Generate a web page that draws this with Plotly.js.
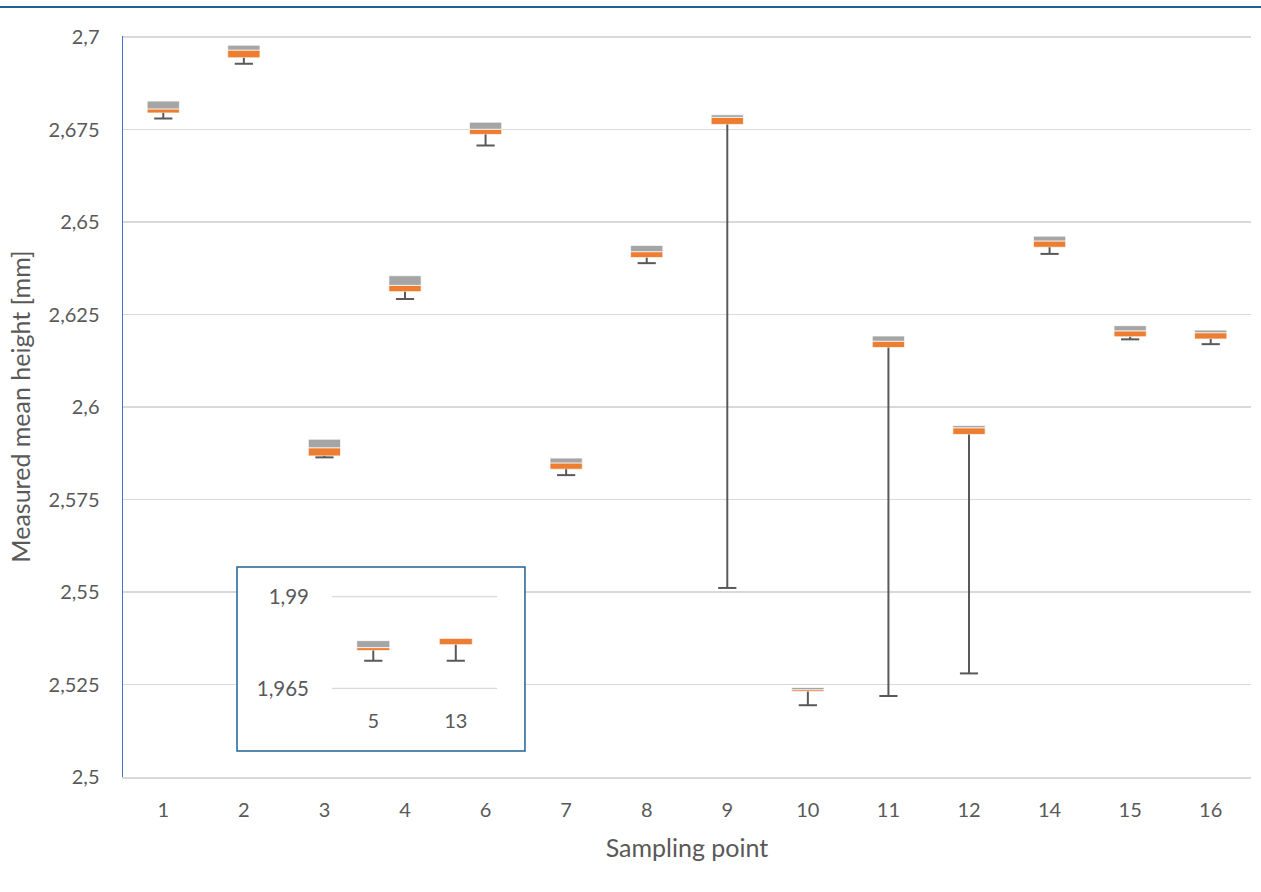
<!DOCTYPE html>
<html>
<head>
<meta charset="utf-8">
<script src="https://cdn.plot.ly/plotly-3.0.1.min.js"></script>
<style>html,body{margin:0;padding:0;background:#fff;}#chart{width:1261px;height:892px;}</style>
</head>
<body>
<div id="chart"></div>
<script>
// Main chart: sampling points
const categories = ['1','2','3','4','6','7','8','9','10','11','12','14','15','16'];
const minVals    = [2.6780, 2.6928, 2.5864, 2.6292, 2.6707, 2.5816, 2.6389, 2.5511, 2.5194, 2.5219, 2.5280, 2.6414, 2.6183, 2.6170];
const q1Vals     = [2.6795, 2.6944, 2.5868, 2.6312, 2.6737, 2.5832, 2.6404, 2.6764, 2.5231, 2.6161, 2.5926, 2.6432, 2.6190, 2.6184];
const medianVals = [2.6806, 2.6965, 2.5890, 2.6329, 2.6751, 2.5849, 2.6420, 2.6783, 2.5236, 2.6178, 2.5944, 2.6449, 2.6206, 2.6201];
const q3Vals     = [2.6827, 2.6978, 2.5913, 2.6355, 2.6770, 2.5862, 2.6437, 2.6790, 2.5242, 2.6192, 2.5950, 2.6462, 2.6220, 2.6208];

// Inset: points 5 and 13
const insetCategories = ['5','13'];
const insetMin    = [1.9725, 1.9725];
const insetQ1     = [1.9753, 1.9769];
const insetMedian = [1.9761, 1.9787];
const insetQ3     = [1.9780, 1.9787];

// Tick labels
const yTickVals = [2.5, 2.525, 2.55, 2.575, 2.6, 2.625, 2.65, 2.675, 2.7];
const yTickText = ['2,5', '2,525', '2,55', '2,575', '2,6', '2,625', '2,65', '2,675', '2,7'];
const insetTickVals = [1.965, 1.99];
const insetTickText = ['1,965', '1,99'];

const ORANGE = '#ED7D31', GRAY = '#A5A5A5', WHISK = '#595959';
const TXT = '#595959', GRID = '#D9D9D9', FONT = 'Lato, "Open Sans", sans-serif';

function diff(a, b) { return a.map((v, i) => v - b[i]); }
function boxTraces(cats, mn, q1, md, q3, xa, ya) {
  const sx = [], sy = [];
  cats.forEach((c, i) => { sx.push(c, c, null); sy.push(q1[i], mn[i], null); });
  return [
    {type: 'bar', x: cats, y: diff(md, q1), base: q1, xaxis: xa, yaxis: ya,
     marker: {color: ORANGE, line: {color: 'rgba(255,255,255,0.7)', width: 1}}, hoverinfo: 'skip'},
    {type: 'bar', x: cats, y: diff(q3, md), base: md, xaxis: xa, yaxis: ya,
     marker: {color: GRAY, line: {color: 'rgba(255,255,255,0.7)', width: 1}}, hoverinfo: 'skip'},
    {type: 'scatter', mode: 'lines', x: sx, y: sy, xaxis: xa, yaxis: ya,
     line: {color: WHISK, width: 2}, hoverinfo: 'skip', connectgaps: false},
    {type: 'scatter', mode: 'markers', x: cats, y: mn, xaxis: xa, yaxis: ya,
     marker: {symbol: 'line-ew', size: 13, line: {color: WHISK, width: 2}}, hoverinfo: 'skip'}
  ];
}

const data = [].concat(
  boxTraces(categories, minVals, q1Vals, medianVals, q3Vals, 'x', 'y'),
  boxTraces(insetCategories, insetMin, insetQ1, insetMedian, insetQ3, 'x2', 'y2')
);

const shapes = [
  {type: 'rect', xref: 'x', yref: 'y', layer: 'between',
   x0: 0.915, x1: 4.489, y0: 2.50703, y1: 2.55676,
   fillcolor: '#ffffff', line: {color: '#1F6196', width: 1.5}},
  {type: 'line', xref: 'paper', yref: 'paper', layer: 'above',
   x0: -0.11, x1: 1.01, y0: 1.0392, y1: 1.0392,
   line: {color: '#1F6196', width: 2}}
].concat(insetTickVals.map(v => ({
  type: 'line', xref: 'x2 domain', yref: 'y2', layer: 'above',
  x0: 0, x1: 1, y0: v, y1: v, line: {color: GRID, width: 1.5}
})));

const layout = {
  width: 1261, height: 892,
  margin: {l: 123, r: 10, t: 36, b: 115},
  paper_bgcolor: '#fff', plot_bgcolor: '#fff',
  showlegend: false, hovermode: false,
  barmode: 'overlay', bargap: 0.6,
  font: {family: FONT, color: TXT, size: 20},
  xaxis: {
    type: 'category', domain: [0, 1], range: [-0.5, categories.length - 0.5],
    showgrid: false, zeroline: false,
    showline: true, linecolor: GRID, linewidth: 1.5, ticks: '',
    ticklabelstandoff: 14, tickfont: {size: 20, color: TXT},
    title: {text: 'Sampling point', font: {size: 25, color: TXT}, standoff: 20}
  },
  yaxis: {
    range: [2.5, 2.7003], tickmode: 'array', tickvals: yTickVals, ticktext: yTickText,
    showgrid: true, gridcolor: GRID, gridwidth: 1.5, zeroline: false,
    showline: true, linecolor: '#4472C4', linewidth: 1.5, ticks: '',
    ticklabelstandoff: 18, tickfont: {size: 20, color: TXT},
    title: {text: 'Measured mean height [mm]', font: {size: 25, color: TXT}, standoff: 11}
  },
  xaxis2: {
    type: 'category', domain: [0.1853, 0.3316], anchor: 'y2', range: [-0.5, insetCategories.length - 0.5],
    showgrid: false, zeroline: false, showline: false, ticks: '',
    ticklabelstandoff: 18, tickfont: {size: 20, color: TXT}
  },
  yaxis2: {
    range: [1.9648, 1.9902], domain: [0.1185, 0.2446], anchor: 'x2',
    tickmode: 'array', tickvals: insetTickVals, ticktext: insetTickText,
    showgrid: false, zeroline: false,
    showline: false, ticks: '', ticklabelstandoff: 22, tickfont: {size: 20.5, color: TXT}
  },
  shapes: shapes
};

Plotly.newPlot('chart', data, layout, {displayModeBar: false, staticPlot: true});
</script>
</body>
</html>
